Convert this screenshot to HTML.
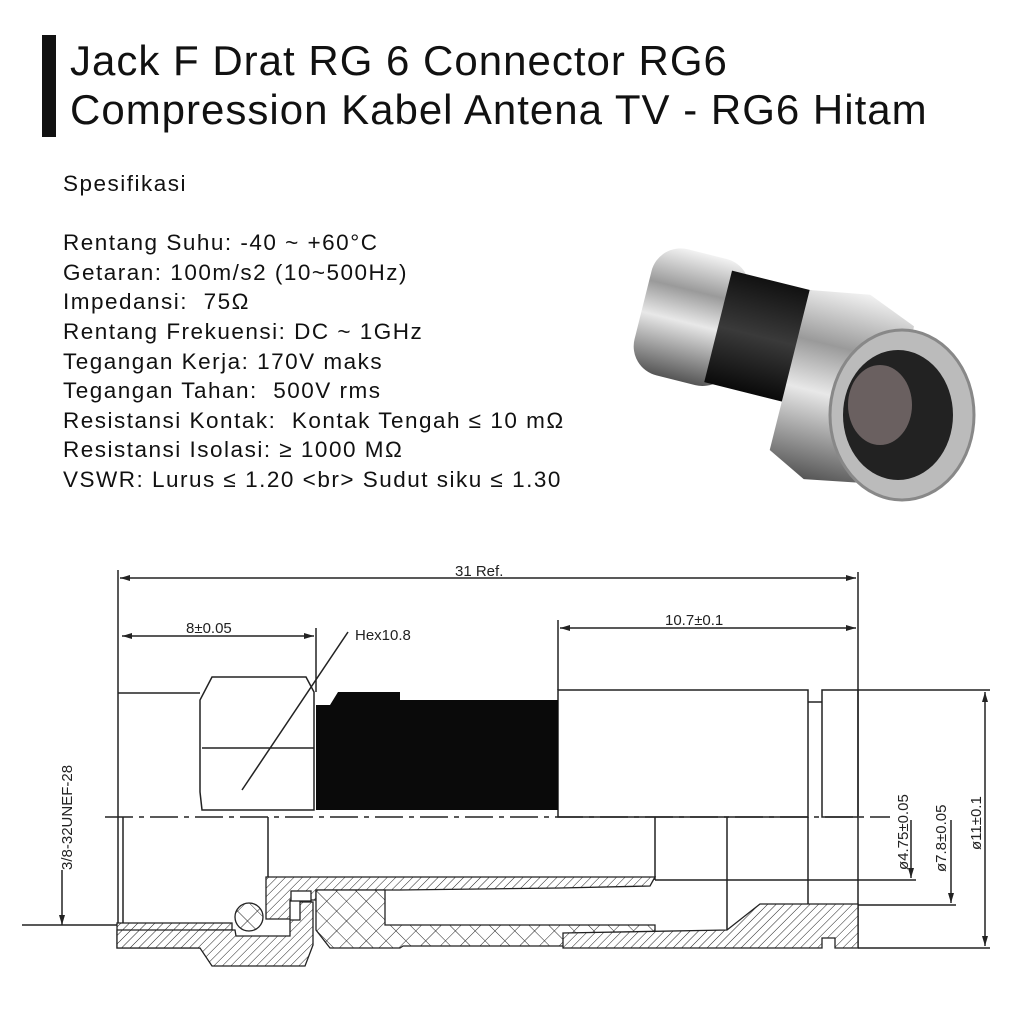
<!DOCTYPE html>
<html><head><meta charset="utf-8"><style>
html,body{margin:0;padding:0;background:#fff;}
body{width:1024px;height:1024px;position:relative;overflow:hidden;font-family:"Liberation Sans",Arial,sans-serif;color:#111;}
.bar{position:absolute;left:42px;top:35px;width:14px;height:102px;background:#111;}
.title{position:absolute;left:70px;top:36px;font-size:42px;line-height:49px;letter-spacing:1px;white-space:nowrap;}
.spec{position:absolute;left:63px;top:169px;font-size:22.5px;line-height:29.6px;letter-spacing:1.5px;white-space:pre;}
</style></head><body>
<div class="bar"></div>
<div class="title">Jack F Drat RG 6 Connector RG6<br>Compression Kabel Antena TV - RG6 Hitam</div>
<div class="spec">Spesifikasi

Rentang Suhu: -40 ~ +60°C
Getaran: 100m/s2 (10~500Hz)
Impedansi:  75Ω
Rentang Frekuensi: DC ~ 1GHz
Tegangan Kerja: 170V maks
Tegangan Tahan:  500V rms
Resistansi Kontak:  Kontak Tengah ≤ 10 mΩ
Resistansi Isolasi: ≥ 1000 MΩ
VSWR: Lurus ≤ 1.20 &lt;br&gt; Sudut siku ≤ 1.30</div>

<svg width="1024" height="1024" style="position:absolute;left:0;top:0">
<defs>
<linearGradient id="met" x1="0" y1="0" x2="0" y2="1">
<stop offset="0" stop-color="#f2f2f2"/><stop offset="0.3" stop-color="#9a9a9a"/><stop offset="0.55" stop-color="#e8e8e8"/><stop offset="1" stop-color="#555"/></linearGradient>
<linearGradient id="blk" x1="0" y1="0" x2="0" y2="1">
<stop offset="0" stop-color="#111"/><stop offset="0.5" stop-color="#3a3a3a"/><stop offset="1" stop-color="#0a0a0a"/></linearGradient>
<pattern id="h" width="6" height="6" patternUnits="userSpaceOnUse" patternTransform="rotate(45)"><rect width="6" height="6" fill="#fff"/><line x1="0" y1="0" x2="0" y2="6" stroke="#222" stroke-width="1"/></pattern>
<pattern id="x" width="14" height="14" patternUnits="userSpaceOnUse" patternTransform="rotate(45)"><rect width="14" height="14" fill="#fff"/><line x1="0" y1="0" x2="0" y2="14" stroke="#222" stroke-width="1"/><line x1="0" y1="0" x2="14" y2="0" stroke="#222" stroke-width="1"/></pattern>
</defs>
<g transform="rotate(14 800 370)">
<rect x="632" y="280" width="100" height="130" rx="30" fill="url(#met)"/>
<rect x="710" y="290" width="100" height="115" fill="url(#blk)"/>
<polygon points="790,290 850,280 900,300 905,380 885,465 830,475 790,455" fill="url(#met)"/>
</g>
<ellipse cx="902" cy="415" rx="72" ry="85" fill="#bbb" stroke="#888" stroke-width="3"/>
<ellipse cx="898" cy="415" rx="55" ry="65" fill="#222"/>
<ellipse cx="880" cy="405" rx="32" ry="40" fill="#6a6060"/>

<g stroke="#222" stroke-width="1.5" fill="none">
<line x1="118" y1="570" x2="118" y2="948"/>
<line x1="858" y1="572" x2="858" y2="948"/>
<line x1="120" y1="578" x2="856" y2="578"/>
<line x1="316" y1="628" x2="316" y2="692"/>
<line x1="122" y1="636" x2="314" y2="636"/>
<line x1="558" y1="620" x2="558" y2="690"/>
<line x1="560" y1="628" x2="856" y2="628"/>
<line x1="348" y1="632" x2="242" y2="790"/>
<line x1="118" y1="693" x2="200" y2="693"/>
<polygon points="212,677 306,677 314,692 314,810 202,810 200,792 200,700"/>
<line x1="202" y1="748" x2="314" y2="748"/>
<rect x="558" y="690" width="250" height="127"/>
<rect x="822" y="690" width="36" height="127"/>
<line x1="808" y1="702" x2="822" y2="702"/>
<line x1="808" y1="817" x2="808" y2="905"/>
<line x1="105" y1="817" x2="890" y2="817" stroke-dasharray="28,6,5,6"/>
<line x1="123" y1="817" x2="123" y2="946"/>
<line x1="268" y1="817" x2="268" y2="877"/>
<line x1="655" y1="817" x2="655" y2="880"/>
<line x1="727" y1="817" x2="727" y2="930"/>
<line x1="858" y1="690" x2="990" y2="690"/>
<line x1="655" y1="880" x2="916" y2="880"/>
<line x1="808" y1="905" x2="956" y2="905"/>
<line x1="858" y1="948" x2="990" y2="948"/>
<line x1="911" y1="820" x2="911" y2="878"/>
<line x1="951" y1="820" x2="951" y2="903"/>
<line x1="985" y1="692" x2="985" y2="946"/>
<line x1="62" y1="870" x2="62" y2="925"/>
<line x1="22" y1="925" x2="118" y2="925"/>
</g>
<g fill="#222">
<polygon points="120,578 130,575 130,581"/><polygon points="856,578 846,575 846,581"/>
<polygon points="122,636 132,633 132,639"/><polygon points="314,636 304,633 304,639"/>
<polygon points="560,628 570,625 570,631"/><polygon points="856,628 846,625 846,631"/>
<polygon points="985,692 982,702 988,702"/><polygon points="985,946 982,936 988,936"/>
<polygon points="911,878 908,868 914,868"/><polygon points="951,903 948,893 954,893"/>
<polygon points="62,925 59,915 65,915"/>
</g>
<polygon points="316,705 330,705 338,692 400,692 400,700 558,700 558,810 316,810" fill="#0a0a0a"/>
<g stroke="#222" stroke-width="1.3">
<polygon points="117,923 232,923 232,930 200,930 212,948 210,948 117,948" fill="url(#h)"/>
<polygon points="117,930 235,930 236,936 290,936 290,920 300,920 300,902 313,902 313,945 305,966 212,966 200,948 117,948" fill="url(#h)"/>
<polygon points="266,877 655,877 650,886 560,888 400,890 316,890 316,900 290,900 290,919 266,919" fill="url(#h)"/>
<rect x="291" y="891" width="20" height="10" fill="#fff"/>
<polygon points="316,890 385,890 385,925 655,925 655,946 403,946 400,948 330,948 316,930" fill="url(#x)"/>
<circle cx="249" cy="917" r="14" fill="url(#x)"/>
<polygon points="563,933 727,930 760,904 858,904 858,948 835,948 835,938 822,938 822,948 563,948" fill="url(#h)"/>
</g>
<g font-family="Liberation Sans, sans-serif" font-size="15" fill="#222">
<text x="455" y="576">31 Ref.</text>
<text x="186" y="633">8±0.05</text>
<text x="355" y="640">Hex10.8</text>
<text x="665" y="625">10.7±0.1</text>
<text transform="translate(72,870) rotate(-90)">3/8-32UNEF-28</text>
<text transform="translate(908,870) rotate(-90)">ø4.75±0.05</text>
<text transform="translate(946,872) rotate(-90)">ø7.8±0.05</text>
<text transform="translate(981,850) rotate(-90)">ø11±0.1</text>
</g>
</svg>
</body></html>
